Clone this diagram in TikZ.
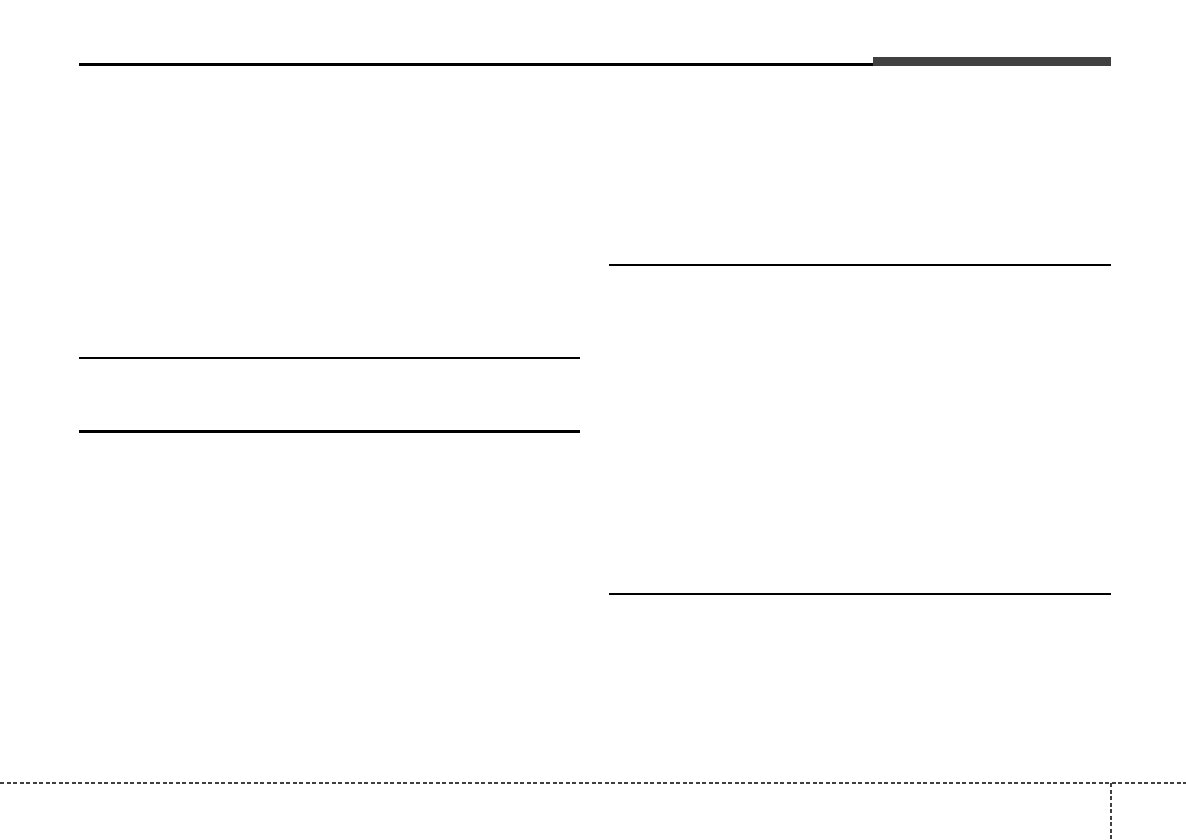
\documentclass[tikz,border=0pt]{standalone}
\usepackage{xcolor}
\usepackage{tikz}
\definecolor{bargray}{HTML}{404040}
\tikzset{
	thinrule/.style={black, line width=1.2bp},
	thickrule/.style={black, line width=2.2bp},
	cutline/.style={bargray, line width=1.1bp, dash pattern=on 4bp off 2.5bp},
}

\begin{document}
\begin{tikzpicture}[x=1bp, y=-1bp]
			\useasboundingbox	(0, 0) rectangle (1186, 840);

			% header
			\draw[thickrule]		(79, 64.5) to (873, 64.5);
			\fill[bargray]		(873, 57) rectangle (1111, 66);

			% left column
			\draw[thinrule]		(79, 358) to (580, 358);
			\draw[thickrule]		(79, 431.5) to (580, 431.5);

			% right column
			\draw[thickrule]		(609, 265) to (1111, 265);
			\draw[thinrule]		(609, 594) to (1111, 594);

			% footer
			\draw[cutline]		(0, 783) to (1186, 783);
			\draw[cutline, line width=2.2bp]	(1111, 783) to (1111, 840);
		\end{tikzpicture}
\end{document}
